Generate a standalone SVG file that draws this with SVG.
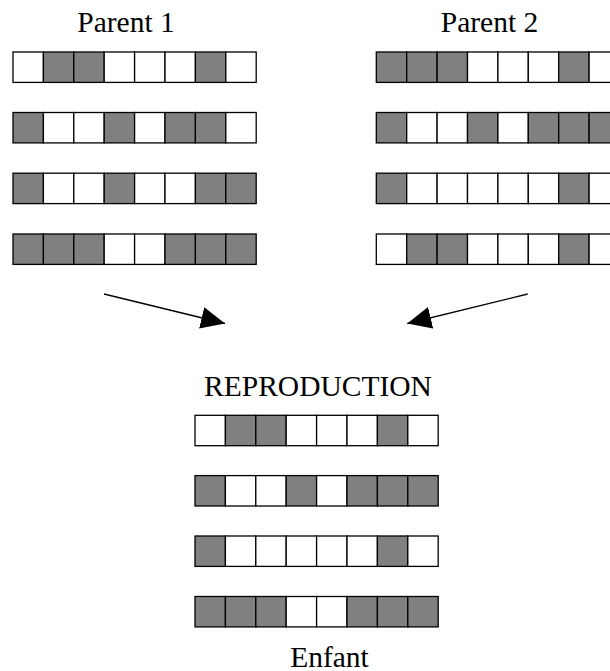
<svg xmlns="http://www.w3.org/2000/svg" width="610" height="671" viewBox="0 0 610 671">
  <style>
    .label { font-family: "Liberation Serif", "Times New Roman", serif; font-size: 29.5px; fill: #000; text-anchor: middle; }
    .cell { stroke: #000; stroke-width: 1.3; }
    .on { fill: #808080; }
    .off { fill: #fff; }
    .arrow { stroke: #000; stroke-width: 1.3; fill: none; marker-end: url(#head); }
  </style>
  <defs>
    <marker id="head" markerUnits="userSpaceOnUse" viewBox="0 0 24 22" refX="24" refY="11" markerWidth="24" markerHeight="22" orient="auto">
      <path d="M0,0 L24,11 L0,22 z" fill="#000"/>
    </marker>
    <rect id="c" class="cell" width="30.4" height="30.4"/>
  </defs>
  <rect width="610" height="671" fill="#fff"/>

  <!-- Parent 1 -->
  <g id="parent1">
    <text class="label" x="126" y="32">Parent 1</text>
    <g transform="translate(13,52)">
      <use href="#c" class="off" x="0"/><use href="#c" class="on" x="30.4"/><use href="#c" class="on" x="60.8"/><use href="#c" class="off" x="91.2"/>
      <use href="#c" class="off" x="121.6"/><use href="#c" class="off" x="152"/><use href="#c" class="on" x="182.4"/><use href="#c" class="off" x="212.8"/>
    </g>
    <g transform="translate(13,112.5)">
      <use href="#c" class="on" x="0"/><use href="#c" class="off" x="30.4"/><use href="#c" class="off" x="60.8"/><use href="#c" class="on" x="91.2"/>
      <use href="#c" class="off" x="121.6"/><use href="#c" class="on" x="152"/><use href="#c" class="on" x="182.4"/><use href="#c" class="off" x="212.8"/>
    </g>
    <g transform="translate(13,173.2)">
      <use href="#c" class="on" x="0"/><use href="#c" class="off" x="30.4"/><use href="#c" class="off" x="60.8"/><use href="#c" class="on" x="91.2"/>
      <use href="#c" class="off" x="121.6"/><use href="#c" class="off" x="152"/><use href="#c" class="on" x="182.4"/><use href="#c" class="on" x="212.8"/>
    </g>
    <g transform="translate(13,234)">
      <use href="#c" class="on" x="0"/><use href="#c" class="on" x="30.4"/><use href="#c" class="on" x="60.8"/><use href="#c" class="off" x="91.2"/>
      <use href="#c" class="off" x="121.6"/><use href="#c" class="on" x="152"/><use href="#c" class="on" x="182.4"/><use href="#c" class="on" x="212.8"/>
    </g>
  </g>

  <!-- Parent 2 -->
  <g id="parent2">
    <text class="label" x="489.5" y="32">Parent 2</text>
    <g transform="translate(376.3,52)">
      <use href="#c" class="on" x="0"/><use href="#c" class="on" x="30.4"/><use href="#c" class="on" x="60.8"/><use href="#c" class="off" x="91.2"/>
      <use href="#c" class="off" x="121.6"/><use href="#c" class="off" x="152"/><use href="#c" class="on" x="182.4"/><use href="#c" class="off" x="212.8"/>
    </g>
    <g transform="translate(376.3,112.5)">
      <use href="#c" class="on" x="0"/><use href="#c" class="off" x="30.4"/><use href="#c" class="off" x="60.8"/><use href="#c" class="on" x="91.2"/>
      <use href="#c" class="off" x="121.6"/><use href="#c" class="on" x="152"/><use href="#c" class="on" x="182.4"/><use href="#c" class="on" x="212.8"/>
    </g>
    <g transform="translate(376.3,173.2)">
      <use href="#c" class="on" x="0"/><use href="#c" class="off" x="30.4"/><use href="#c" class="off" x="60.8"/><use href="#c" class="off" x="91.2"/>
      <use href="#c" class="off" x="121.6"/><use href="#c" class="off" x="152"/><use href="#c" class="on" x="182.4"/><use href="#c" class="off" x="212.8"/>
    </g>
    <g transform="translate(376.3,234)">
      <use href="#c" class="off" x="0"/><use href="#c" class="on" x="30.4"/><use href="#c" class="on" x="60.8"/><use href="#c" class="off" x="91.2"/>
      <use href="#c" class="off" x="121.6"/><use href="#c" class="off" x="152"/><use href="#c" class="on" x="182.4"/><use href="#c" class="off" x="212.8"/>
    </g>
  </g>

  <!-- Connectors -->
  <g id="connectors">
    <line class="arrow" x1="104" y1="294" x2="225" y2="323.5"/>
    <line class="arrow" x1="527.7" y1="294" x2="407.3" y2="323.5"/>
  </g>

  <!-- Offspring -->
  <g id="enfant">
    <text class="label" x="318" y="395.5">REPRODUCTION</text>
    <g transform="translate(195,415.3)">
      <use href="#c" class="off" x="0"/><use href="#c" class="on" x="30.4"/><use href="#c" class="on" x="60.8"/><use href="#c" class="off" x="91.2"/>
      <use href="#c" class="off" x="121.6"/><use href="#c" class="off" x="152"/><use href="#c" class="on" x="182.4"/><use href="#c" class="off" x="212.8"/>
    </g>
    <g transform="translate(195,475.6)">
      <use href="#c" class="on" x="0"/><use href="#c" class="off" x="30.4"/><use href="#c" class="off" x="60.8"/><use href="#c" class="on" x="91.2"/>
      <use href="#c" class="off" x="121.6"/><use href="#c" class="on" x="152"/><use href="#c" class="on" x="182.4"/><use href="#c" class="on" x="212.8"/>
    </g>
    <g transform="translate(195,536)">
      <use href="#c" class="on" x="0"/><use href="#c" class="off" x="30.4"/><use href="#c" class="off" x="60.8"/><use href="#c" class="off" x="91.2"/>
      <use href="#c" class="off" x="121.6"/><use href="#c" class="off" x="152"/><use href="#c" class="on" x="182.4"/><use href="#c" class="off" x="212.8"/>
    </g>
    <g transform="translate(195,596.5)">
      <use href="#c" class="on" x="0"/><use href="#c" class="on" x="30.4"/><use href="#c" class="on" x="60.8"/><use href="#c" class="off" x="91.2"/>
      <use href="#c" class="off" x="121.6"/><use href="#c" class="on" x="152"/><use href="#c" class="on" x="182.4"/><use href="#c" class="on" x="212.8"/>
    </g>
    <text class="label" x="329.5" y="666.5">Enfant</text>
  </g>
</svg>
